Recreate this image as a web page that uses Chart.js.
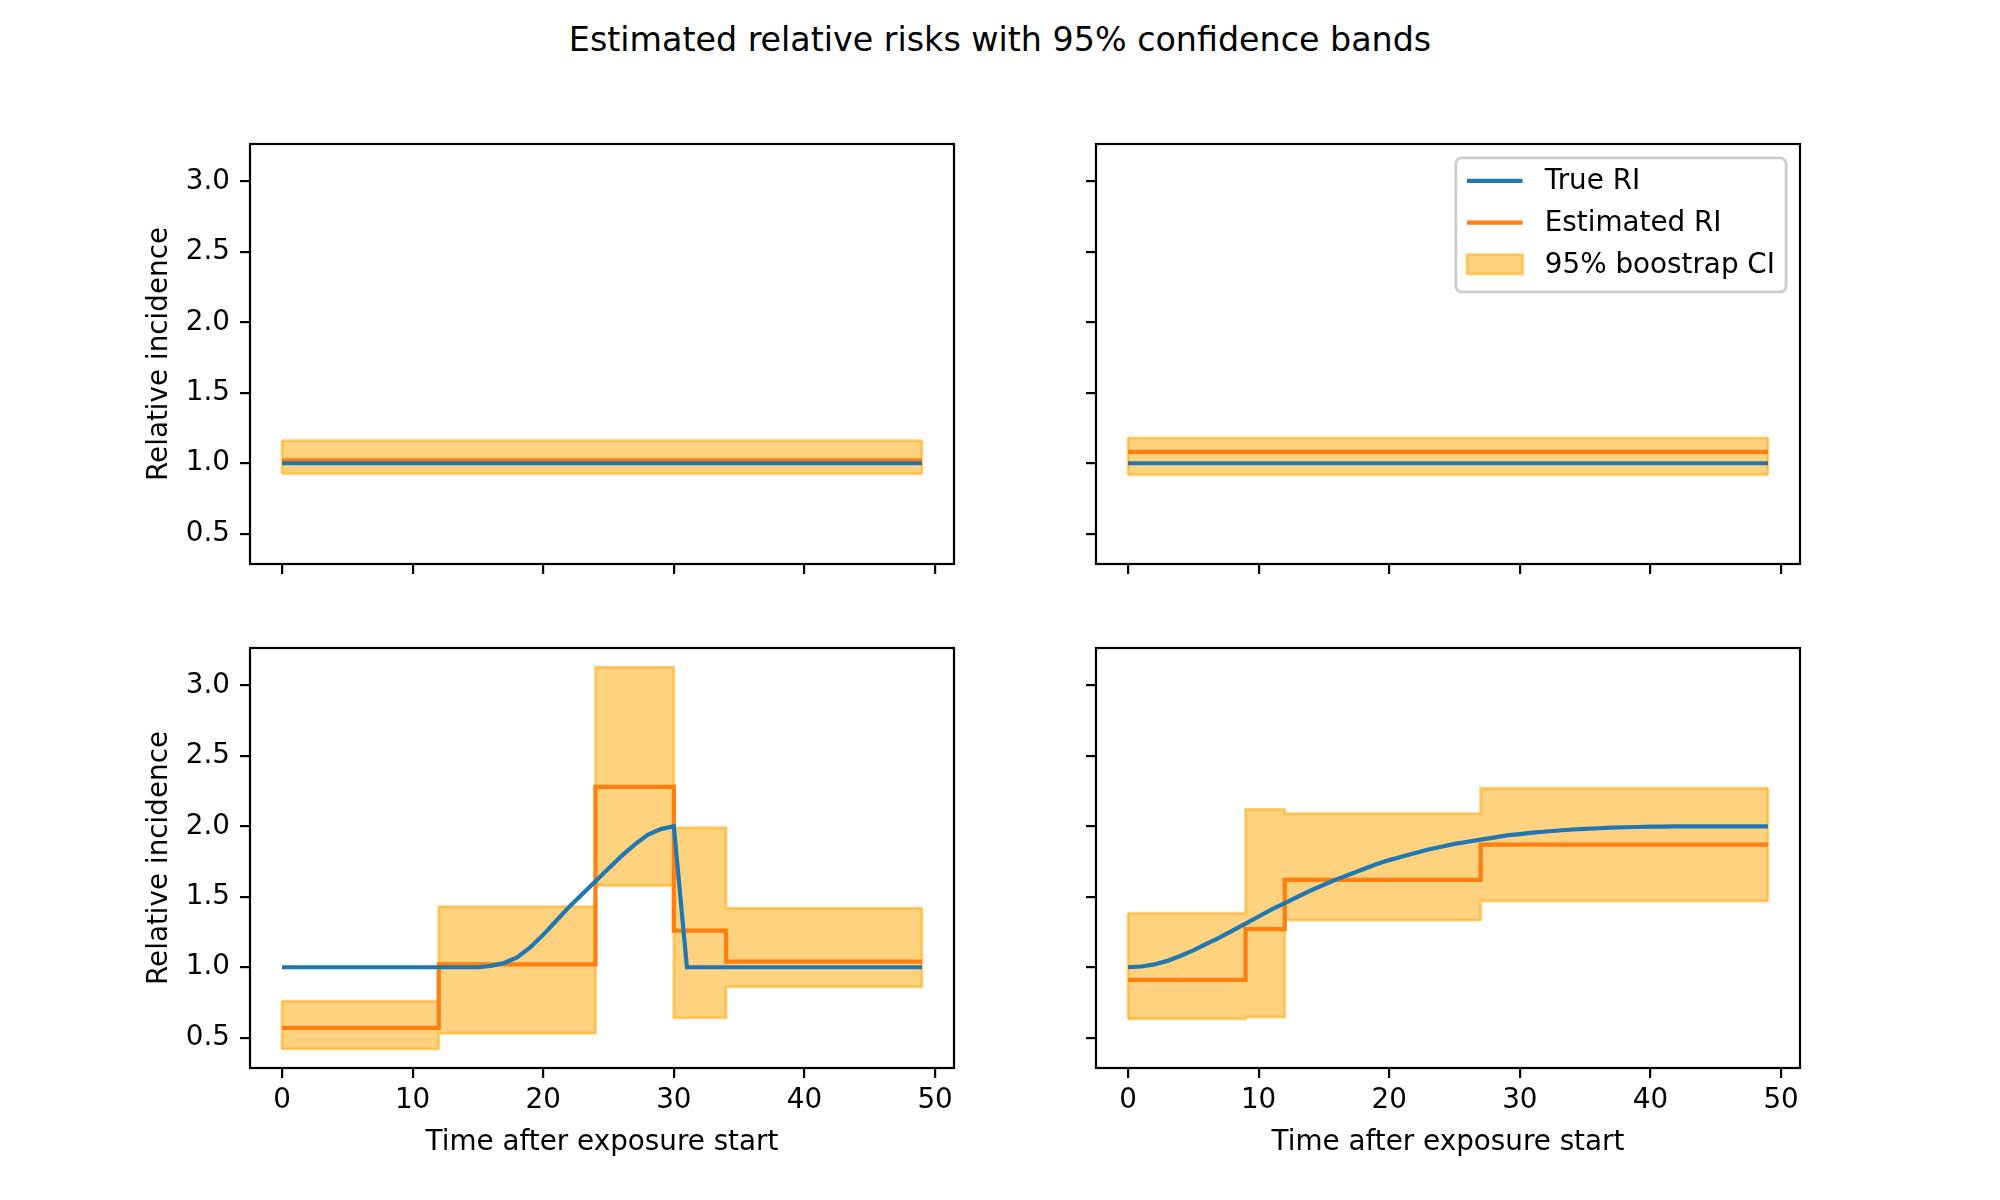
<!DOCTYPE html>
<html>
<head>
<meta charset="utf-8">
<script src="https://cdn.jsdelivr.net/npm/chart.js@4.4.0/dist/chart.umd.min.js"></script>
<style>
  html, body { margin: 0; padding: 0; background: #fff; }
  body { width: 2000px; height: 1200px; position: relative; overflow: hidden; font-family: 'DejaVu Sans', sans-serif; }
  #suptitle { position: absolute; left: 0; top: 22px; width: 2000px; text-align: center; font-size: 33.3px; line-height: 36px; color: #000; }
  .panel { position: absolute; width: 851px; height: 541px; }
</style>
</head>
<body>
<div id="suptitle">Estimated relative risks with 95% confidence bands</div>
<div class="panel" style="left:143px; top:114px;"><canvas id="c0"></canvas></div>
<div class="panel" style="left:989px; top:114px;"><canvas id="c1"></canvas></div>
<div class="panel" style="left:143px; top:618px;"><canvas id="c2"></canvas></div>
<div class="panel" style="left:989px; top:618px;"><canvas id="c3"></canvas></div>
<script>
'use strict'

// axes
const xTicks = [0, 10, 20, 30, 40, 50];
const yTicks = [0.5, 1.0, 1.5, 2.0, 2.5, 3.0];
const xLimits = [-2.45, 51.45];
const yLimits = [0.285, 3.265];

const days = [0, 1, 2, 3, 4, 5, 6, 7, 8, 9, 10, 11, 12, 13, 14, 15, 16, 17, 18, 19,
              20, 21, 22, 23, 24, 25, 26, 27, 28, 29, 30, 31, 32, 33, 34, 35, 36, 37, 38, 39,
              40, 41, 42, 43, 44, 45, 46, 47, 48, 49];
const flatDays = [0, 49];

// top left : constant risk
const trueA = [1.0, 1.0];
const stepA = [0, 49];
const estA = [1.02, 1.02];
const lowA = [0.925, 0.925];
const highA = [1.16, 1.16];

// top right : constant risk
const trueB = [1.0, 1.0];
const stepB = [0, 49];
const estB = [1.08, 1.08];
const lowB = [0.918, 0.918];
const highB = [1.18, 1.18];

// bottom left : peak then drop
const trueC = [1, 1, 1, 1, 1, 1, 1, 1, 1, 1, 1, 1, 1, 1, 1, 1,
               1.01, 1.03, 1.07, 1.14, 1.23, 1.33, 1.43, 1.52, 1.61, 1.70, 1.79, 1.87, 1.94, 1.98, 2.0,
               1, 1, 1, 1, 1, 1, 1, 1, 1, 1, 1, 1, 1, 1, 1, 1, 1, 1, 1];
const stepC = [0, 12, 24, 30, 34, 49];
const estC = [0.57, 1.02, 2.28, 1.26, 1.04, 1.04];
const lowC = [0.42, 0.53, 1.58, 0.64, 0.86, 0.86];
const highC = [0.76, 1.43, 3.13, 1.99, 1.42, 1.42];

// bottom right : slow rise
const trueD = [1.0, 1.005, 1.02, 1.045, 1.08, 1.12, 1.165, 1.21, 1.26, 1.31,
               1.36, 1.41, 1.455, 1.50, 1.545, 1.585, 1.625, 1.66, 1.695, 1.73,
               1.76, 1.785, 1.81, 1.835, 1.855, 1.875, 1.89, 1.905, 1.92, 1.935,
               1.945, 1.955, 1.963, 1.97, 1.977, 1.982, 1.986, 1.99, 1.993, 1.995,
               1.997, 1.998, 1.999, 1.999, 2.0, 2.0, 2.0, 2.0, 2.0, 2.0];
const stepD = [0, 9, 12, 27, 49];
const estD = [0.91, 1.27, 1.62, 1.87, 1.87];
const lowD = [0.633, 0.647, 1.334, 1.47, 1.47];
const highD = [1.383, 2.12, 2.09, 2.27, 2.27];

const BLUE = '#1f77b4';
const ORANGE = '#ff7f0e';
const BAND_FILL = 'rgba(255,165,0,0.5)';
const BAND_EDGE = 'rgba(255,165,0,0.5)';
const FS = 27.8;

Chart.defaults.font.family = "'DejaVu Sans'";
Chart.defaults.font.size = FS;
Chart.defaults.color = '#000';

const pts = (xs, ys) => xs.map((x, i) => ({ x: x, y: ys[i] }));

// black box round the plot area, like matplotlib spines
const frame = {
    id: 'frame',
    afterDatasetsDraw(chart) {
        const { ctx, chartArea: a } = chart;
        ctx.save();
        ctx.strokeStyle = '#000';
        ctx.lineWidth = 2.2;
        ctx.strokeRect(a.left, a.top, a.right - a.left, a.bottom - a.top);
        ctx.restore();
    }
};

// closing edges of the band at its first and last x
const bandEnds = {
    id: 'bandEnds',
    beforeDatasetDraw(chart, args) {
        if (args.index !== 3) return;
        const low = chart.data.datasets[2].data;
        const high = chart.data.datasets[3].data;
        const { ctx, scales: { x, y } } = chart;
        ctx.save();
        ctx.strokeStyle = BAND_EDGE;
        ctx.lineWidth = 2.8;
        [0, high.length - 1].forEach(i => {
            const px = x.getPixelForValue(high[i].x);
            ctx.beginPath();
            ctx.moveTo(px, y.getPixelForValue(low[i].y));
            ctx.lineTo(px, y.getPixelForValue(high[i].y));
            ctx.stroke();
        });
        ctx.restore();
    }
};

// legend box in the upper right corner of the plot area
const boxLegend = {
    id: 'boxLegend',
    afterDraw(chart) {
        const { ctx, chartArea: a } = chart;
        const items = chart.data.datasets.filter(d => d.label);
        ctx.save();
        ctx.font = FS + "px 'DejaVu Sans'";
        const textW = Math.max(...items.map(d => ctx.measureText(d.label).width));
        const pad = 0.4 * FS, hl = 2 * FS, htp = 0.8 * FS;
        const w = pad + hl + htp + textW + pad;
        const h = 4.82 * FS;
        const x0 = a.right - 0.5 * FS - w;
        const y0 = a.top + 0.5 * FS;

        ctx.beginPath();
        ctx.roundRect(x0, y0, w, h, 6);
        ctx.fillStyle = 'rgba(255,255,255,0.8)';
        ctx.fill();
        ctx.strokeStyle = '#cccccc';
        ctx.lineWidth = 2.8;
        ctx.stroke();

        items.forEach((d, i) => {
            const cy = y0 + 0.83 * FS + i * 1.5 * FS;
            const hx = x0 + pad;
            if (d.fill) {
                const ph = 0.7 * FS;
                ctx.fillStyle = d.backgroundColor;
                ctx.fillRect(hx, cy - ph / 2, hl, ph);
                ctx.strokeStyle = d.borderColor;
                ctx.lineWidth = 2.8;
                ctx.strokeRect(hx, cy - ph / 2, hl, ph);
            } else {
                ctx.strokeStyle = d.borderColor;
                ctx.lineWidth = d.borderWidth;
                ctx.beginPath();
                ctx.moveTo(hx, cy);
                ctx.lineTo(hx + hl, cy);
                ctx.stroke();
            }
            ctx.fillStyle = '#000';
            ctx.textBaseline = 'middle';
            ctx.textAlign = 'left';
            ctx.fillText(d.label, hx + hl + htp, cy + 1);
        });
        ctx.restore();
    }
};

function makePanel(canvasId, p) {
    const plugins = [bandEnds, frame];
    if (p.legend) plugins.push(boxLegend);

    return new Chart(document.getElementById(canvasId), {
        type: 'line',
        data: {
            datasets: [
                { label: 'True RI', data: pts(p.trueX, p.trueY), borderColor: BLUE, borderWidth: 4.2,
                  pointRadius: 0, fill: false, tension: 0 },
                { label: 'Estimated RI', data: pts(p.stepX, p.est), borderColor: ORANGE, borderWidth: 4.2,
                  pointRadius: 0, fill: false, stepped: true },
                { label: '', data: pts(p.stepX, p.low), borderColor: BAND_EDGE, borderWidth: 2.8,
                  pointRadius: 0, fill: false, stepped: true },
                { label: '95% boostrap CI', data: pts(p.stepX, p.high), borderColor: BAND_EDGE, borderWidth: 2.8,
                  pointRadius: 0, fill: '-1', backgroundColor: BAND_FILL, stepped: true }
            ]
        },
        options: {
            animation: false,
            responsive: true,
            maintainAspectRatio: false,
            events: [],
            layout: { padding: { top: 30, right: 40, left: 0, bottom: 0 } },
            plugins: { legend: { display: false }, tooltip: { enabled: false } },
            scales: {
                x: {
                    type: 'linear',
                    min: xLimits[0],
                    max: xLimits[1],
                    afterBuildTicks: s => { s.ticks = xTicks.map(v => ({ value: v })); },
                    afterFit: s => { s.height = 91; },
                    ticks: { display: p.showX, padding: 6, maxRotation: 0, autoSkip: false,
                             callback: v => String(v) },
                    grid: { display: true, drawOnChartArea: false, drawTicks: true, tickLength: 10,
                            color: '#000', lineWidth: 2.2 },
                    border: { display: false },
                    title: { display: p.showX, text: 'Time after exposure start', padding: 0 }
                },
                y: {
                    type: 'linear',
                    min: yLimits[0],
                    max: yLimits[1],
                    afterBuildTicks: s => { s.ticks = yTicks.map(v => ({ value: v })); },
                    afterFit: s => { s.width = 107; },
                    ticks: { display: p.showY, padding: 10, callback: v => v.toFixed(1) },
                    grid: { display: true, drawOnChartArea: false, drawTicks: true, tickLength: 10,
                            color: '#000', lineWidth: 2.2 },
                    border: { display: false },
                    title: { display: p.showY, text: 'Relative incidence', padding: 0 }
                }
            }
        },
        plugins: plugins
    });
}

makePanel('c0', { trueX: flatDays, trueY: trueA, stepX: stepA, est: estA, low: lowA, high: highA,
                  showX: false, showY: true, legend: false });
makePanel('c1', { trueX: flatDays, trueY: trueB, stepX: stepB, est: estB, low: lowB, high: highB,
                  showX: false, showY: false, legend: true });
makePanel('c2', { trueX: days, trueY: trueC, stepX: stepC, est: estC, low: lowC, high: highC,
                  showX: true, showY: true, legend: false });
makePanel('c3', { trueX: days, trueY: trueD, stepX: stepD, est: estD, low: lowD, high: highD,
                  showX: true, showY: false, legend: false });
</script>
</body>
</html>
